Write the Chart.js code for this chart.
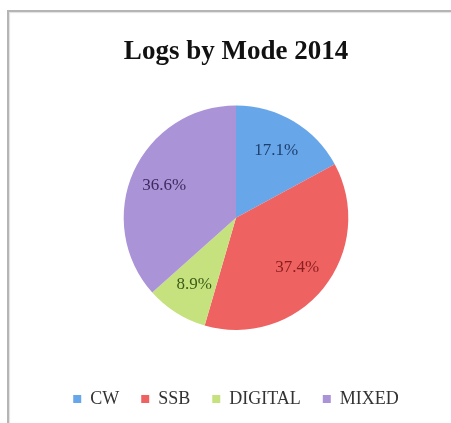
<!DOCTYPE html>
<html>
<head>
<meta charset="utf-8">
<script src="https://cdn.jsdelivr.net/npm/chart.js@4"></script>
<style>
  html, body { margin: 0; padding: 0; background: #fff; overflow: hidden; }
  body { width: 451px; height: 423px; position: relative; }
  #frame {
    position: absolute; left: 7px; top: 10px; width: 460px; height: 420px;
    border-left: 2px solid #b5b5b5; border-top: 2px solid #b5b5b5;
    box-shadow: inset 1px 1px 1px #e2e2e2;
  }
  #box { position: absolute; left: 0; top: 0; width: 454px; height: 411px; }
</style>
</head>
<body>
<div id="frame"><div id="box"><canvas id="modeChart"></canvas></div></div>
<script>
const titleText = 'Logs by Mode 2014';
const modes = ['CW', 'SSB', 'DIGITAL', 'MIXED'];
const shares = [17.1, 37.4, 8.9, 36.6];
const sliceColors = ['#68a6ea', '#ef6262', '#c6e27f', '#ab93d8'];
const labelColors = ['#1e3f6c', '#8a1e1e', '#3d5c17', '#3e2c5e'];

// draws the percentage text inside each slice
const sliceLabels = {
    id: 'sliceLabels',
    afterDatasetsDraw(chart) {
        const ctx = chart.ctx;
        const meta = chart.getDatasetMeta(0);
        ctx.save();
        ctx.font = '17px "Liberation Serif", serif';
        ctx.textAlign = 'center';
        ctx.textBaseline = 'middle';
        meta.data.forEach((arc, i) => {
            const p = arc.getProps(['x', 'y', 'startAngle', 'endAngle', 'outerRadius'], true);
            const mid = (p.startAngle + p.endAngle) / 2;
            const r = p.outerRadius * 0.7;
            ctx.fillStyle = labelColors[i];
            ctx.fillText(shares[i].toFixed(1) + '%', p.x + Math.cos(mid) * r, p.y + Math.sin(mid) * r);
        });
        ctx.restore();
    }
};

new Chart(document.getElementById('modeChart'), {
    type: 'pie',
    data: {
        labels: modes,
        datasets: [{
            data: shares,
            backgroundColor: sliceColors,
            borderWidth: 0
        }]
    },
    options: {
        responsive: true,
        maintainAspectRatio: false,
        animation: false,
        layout: { padding: { bottom: 5 } },
        plugins: {
            title: {
                display: true,
                text: titleText,
                color: '#111',
                font: { family: '"Liberation Serif", serif', size: 27, weight: 'bold' },
                padding: { top: 24, bottom: 37 }
            },
            legend: {
                position: 'bottom',
                // blank legend title only used as a spacer above the items
                title: {
                    display: true,
                    text: ' ',
                    font: { size: 10 },
                    padding: { top: 26, bottom: 0 }
                },
                labels: {
                    boxWidth: 8,
                    boxHeight: 8,
                    padding: 22,
                    color: '#333',
                    font: { family: '"Liberation Serif", serif', size: 18 }
                }
            },
            tooltip: { enabled: false }
        }
    },
    plugins: [sliceLabels]
});
</script>
</body>
</html>
